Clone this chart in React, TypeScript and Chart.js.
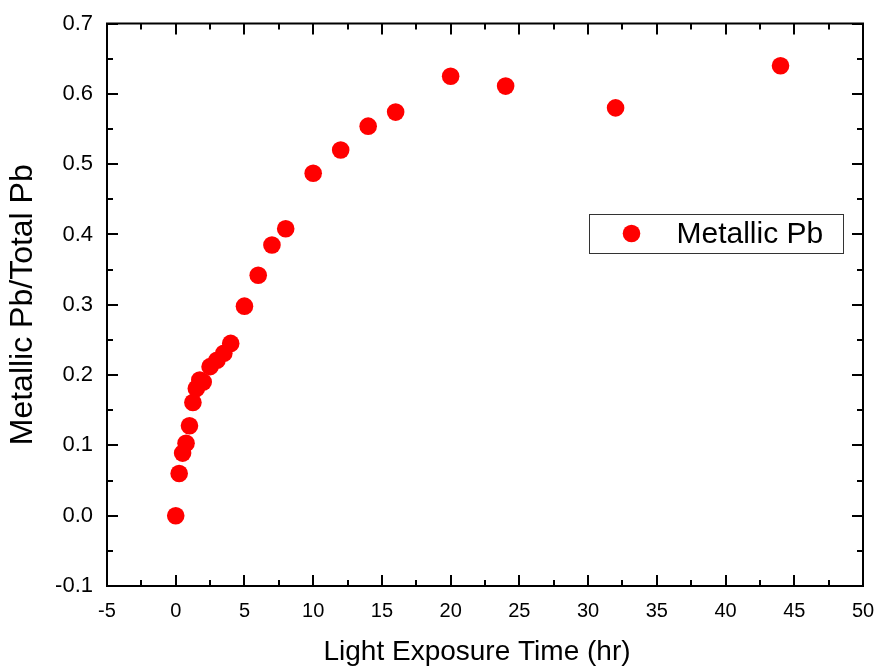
import React, { useEffect, useRef } from "react";
import { Chart, registerables } from "chart.js";

Chart.register(...registerables);

const seriesLabel = "Metallic Pb";
const exposureHours = [0, 0.25, 0.5, 0.75, 1, 1.25, 1.5, 1.75, 2, 2.5, 3, 3.5, 4, 5, 6, 7, 8, 10, 12, 14, 16, 20, 24, 32, 44];
const metallicRatio = [0.0, 0.06, 0.089, 0.103, 0.128, 0.161, 0.181, 0.193, 0.19, 0.212, 0.221, 0.231, 0.245, 0.298, 0.342, 0.385, 0.408, 0.487, 0.52, 0.554, 0.574, 0.625, 0.611, 0.58, 0.64];
const xTitle = "Light Exposure Time (hr)";
const yTitle = "Metallic Pb/Total Pb";
const xRange = { min: -5, max: 50, step: 5 };
const yRange = { min: -0.1, max: 0.7, step: 0.1 };

const FONT = "'Liberation Sans', Arial, sans-serif";
const RED = "#ff0000";

const framePlugin = {
  id: "frameTicks",
  afterDraw(chart: any) {
    const { ctx, chartArea } = chart;
    const { left, right, top, bottom } = chartArea;
    const xs = chart.scales.x;
    const ys = chart.scales.y;
    ctx.save();
    ctx.strokeStyle = "#000";
    ctx.lineWidth = 2;
    ctx.strokeRect(left, top, right - left, bottom - top);
    const major = 11;
    const minor = 6;
    ctx.beginPath();
    const xt = xs.ticks.map((t: any) => t.value);
    xt.forEach((v: number, i: number) => {
      const px = Math.round(xs.getPixelForValue(v));
      ctx.moveTo(px, bottom); ctx.lineTo(px, bottom - major);
      ctx.moveTo(px, top); ctx.lineTo(px, top + major);
      if (i < xt.length - 1) {
        const mp = Math.round(xs.getPixelForValue((v + xt[i + 1]) / 2));
        ctx.moveTo(mp, bottom); ctx.lineTo(mp, bottom - minor);
        ctx.moveTo(mp, top); ctx.lineTo(mp, top + minor);
      }
    });
    const yt = ys.ticks.map((t: any) => t.value);
    yt.forEach((v: number, i: number) => {
      const py = Math.round(ys.getPixelForValue(v));
      ctx.moveTo(left, py); ctx.lineTo(left + major, py);
      ctx.moveTo(right, py); ctx.lineTo(right - major, py);
      if (i < yt.length - 1) {
        const mp = Math.round(ys.getPixelForValue((v + yt[i + 1]) / 2));
        ctx.moveTo(left, mp); ctx.lineTo(left + minor, mp);
        ctx.moveTo(right, mp); ctx.lineTo(right - minor, mp);
      }
    });
    ctx.stroke();

    // x-axis title (slightly left of centre, as in the reference)
    ctx.fillStyle = "#000";
    ctx.font = `28px ${FONT}`;
    ctx.textAlign = "center";
    ctx.textBaseline = "middle";
    ctx.fillText(xTitle, (left + right) / 2 - 8, 652);

    // legend
    const bw = 254, bh = 39;
    const bx = right - 20 - bw;
    const by = top + 190.5;
    ctx.lineWidth = 1;
    ctx.strokeStyle = "#333";
    ctx.fillStyle = "#fff";
    ctx.fillRect(bx, by, bw, bh);
    ctx.strokeRect(bx + 0.5, by + 0.5, bw, bh);
    ctx.fillStyle = RED;
    ctx.beginPath();
    ctx.arc(bx + 42.5, by + bh / 2, 8.8, 0, Math.PI * 2);
    ctx.fill();
    ctx.fillStyle = "#000";
    ctx.font = `30px ${FONT}`;
    ctx.textBaseline = "middle";
    ctx.textAlign = "left";
    ctx.fillText(chart.data.datasets[0].label, bx + 87.5, by + bh / 2 + 1);
    ctx.restore();
  },
};

export default function App() {
  const ref = useRef<HTMLCanvasElement | null>(null);
  useEffect(() => {
    if (!ref.current) return;
    const chart = new Chart(ref.current, {
      type: "scatter",
      data: {
        datasets: [
          {
            label: seriesLabel,
            data: exposureHours.map((x, i) => ({ x, y: metallicRatio[i] })),
            backgroundColor: RED,
            borderColor: RED,
            borderWidth: 0,
            pointRadius: 8.8,
            pointHoverRadius: 8.8,
          },
        ],
      },
      options: {
        responsive: false,
        animation: false,
        events: [],
        layout: { padding: { top: 23.5, right: 17, left: 0, bottom: 0 } },
        plugins: { legend: { display: false }, tooltip: { enabled: false } },
        scales: {
          x: {
            type: "linear",
            min: xRange.min,
            max: xRange.max,
            grid: { display: false, drawTicks: false },
            border: { display: false },
            ticks: {
              stepSize: xRange.step,
              color: "#000",
              padding: 13,
              maxRotation: 0,
              font: { family: FONT, size: 20 },
              callback: (v: any) => String(v),
            },
            title: { display: false },
            afterFit: (s: any) => {
              s.height = 86;
              s.paddingLeft = 0;
              s.paddingRight = 0;
            },
          },
          y: {
            type: "linear",
            min: yRange.min,
            max: yRange.max,
            grid: { display: false, drawTicks: false },
            border: { display: false },
            ticks: {
              stepSize: yRange.step,
              color: "#000",
              padding: 14,
              font: { family: FONT, size: 22 },
              callback: (v: any) => {
                const n = Math.abs(Number(v)) < 1e-9 ? 0 : Number(v);
                return n.toFixed(1);
              },
            },
            title: {
              display: true,
              text: yTitle,
              color: "#000",
              font: { family: FONT, size: 32 },
              padding: { top: 4, bottom: 0 },
            },
            afterFit: (s: any) => {
              s.width = 107;
              s.paddingTop = 0;
              s.paddingBottom = 0;
            },
          },
        },
      },
      plugins: [framePlugin],
    });
    return () => chart.destroy();
  }, []);
  return (
    <div style={{ position: "fixed", left: 0, top: 0, width: 880, height: 672, background: "#fff" }}>
      <canvas ref={ref} width={880} height={672} style={{ display: "block" }} />
    </div>
  );
}
